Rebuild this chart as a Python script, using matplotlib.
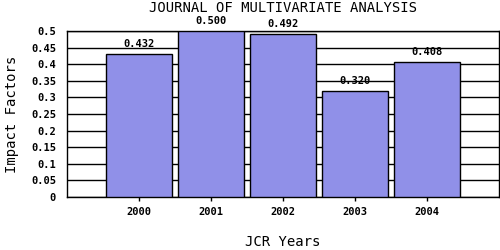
import matplotlib
matplotlib.use("Agg")
import matplotlib.pyplot as plt

years = ["2000", "2001", "2002", "2003", "2004"]
impact = [0.432, 0.500, 0.492, 0.320, 0.408]
yticks = [0, 0.05, 0.1, 0.15, 0.2, 0.25, 0.3, 0.35, 0.4, 0.45, 0.5]
ytick_labels = ["0", "0.05", "0.1", "0.15", "0.2", "0.25", "0.3", "0.35", "0.4", "0.45", "0.5"]

mono = "DejaVu Sans Mono"
fig = plt.figure(figsize=(5, 2.5), dpi=100)
ax = fig.add_axes([67/500, 1 - 197/250, 432/500, 166/250])

pos = list(range(1, len(years) + 1))
ax.bar(pos, impact, width=66/72, color="#9090e8", edgecolor="black", linewidth=1, zorder=3)
for x, v in zip(pos, impact):
    ax.text(x, v + 0.029, f"{v:.3f}", ha="center", va="center", fontsize=7.5,
            family=mono, fontweight="bold", zorder=4, clip_on=False)

ax.set_xlim(0, 6)
ax.set_ylim(0, 0.5)
ax.set_yticks(yticks)
ax.set_yticklabels(ytick_labels, family=mono, fontweight="bold", fontsize=7.5)
ax.set_xticks(pos)
ax.set_xticklabels(years, family=mono, fontweight="bold", fontsize=7.5)
ax.yaxis.grid(True, color="black", linewidth=1, zorder=0)
ax.set_axisbelow(True)
ax.tick_params(axis="y", length=0, pad=8)
ax.tick_params(axis="x", length=3, width=1, direction="out", pad=4)
for s in ax.spines.values():
    s.set_linewidth(1)

fig.text(283/500, 1 - 8/250, "JOURNAL OF MULTIVARIATE ANALYSIS", ha="center", va="center",
         family=mono, fontsize=10)
fig.text(283/500, 1 - 242/250, "JCR Years", ha="center", va="center", family=mono, fontsize=10)
fig.text(12/500, 1 - 114/250, "Impact Factors", ha="center", va="center", rotation=90,
         family=mono, fontsize=10)

fig.savefig("out.png", dpi=100)
